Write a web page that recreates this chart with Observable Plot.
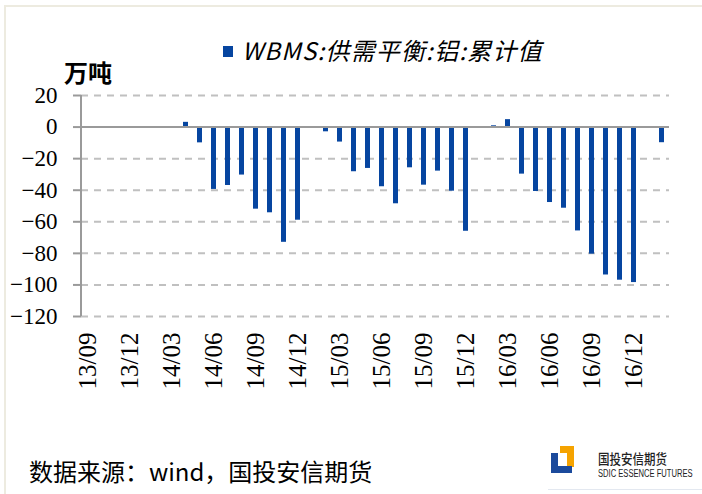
<!DOCTYPE html>
<html>
<head>
<meta charset="utf-8">
<script src="https://cdn.jsdelivr.net/npm/d3@7"></script>
<script src="https://cdn.jsdelivr.net/npm/@observablehq/plot@0.6"></script>
<style>
  html, body { margin: 0; padding: 0; background: #fff; }
  #wrap { position: relative; width: 702px; height: 494px; overflow: hidden; background: #fff; }
  #border { position: absolute; left: 4px; top: 5px; width: 720px; height: 510px; border: 2px solid #EDEBE0; box-sizing: border-box; }
  #chart { position: absolute; left: 0; top: 0; }
  #chart svg text { font-family: "Liberation Serif", "Tinos", "Times New Roman", "DejaVu Serif", serif !important; }
  #legend { position: absolute; left: 223px; top: 36px; height: 28px; line-height: 28px; white-space: nowrap;
            font-family: "Noto Sans CJK SC", sans-serif; font-style: italic; font-size: 24px; letter-spacing: 1.2px; color: #000; }
  #legend .sw { display: inline-block; width: 10px; height: 11px; background: #0645a0; vertical-align: middle; margin-right: 9px; position: relative; top: -2px; }
  #unit { position: absolute; left: 64px; top: 59px; line-height: 26px; font-family: "Noto Sans CJK SC", sans-serif; font-weight: bold; font-size: 24px; color: #000; }
  #caption { position: absolute; left: 29px; top: 457px; line-height: 28px; font-family: "Noto Sans CJK SC", sans-serif; font-size: 24px; color: #000; white-space: nowrap; }
  #logo { position: absolute; left: 548px; top: 444px; width: 160px; height: 50px; }
  #logo .cn { position: absolute; left: 50px; top: 6px; font-family: "Noto Sans CJK SC", sans-serif; font-weight: 500; font-size: 14px; line-height: 17px; color: #222; white-space: nowrap; transform: scaleX(0.82); transform-origin: left top; }
  #logo .en { position: absolute; left: 50px; top: 24px; font-family: "Liberation Sans", sans-serif; font-size: 10px; line-height: 11px; color: #222; white-space: nowrap; transform: scaleX(0.76); transform-origin: left top; }
  #logo .line { position: absolute; left: 0; top: 45px; width: 160px; height: 1px; background: #e3e8f0; }
</style>
</head>
<body>
<div id="wrap">
  <div id="border"></div>
  <div id="chart"></div>
  <div id="legend"><span class="sw"></span>WBMS:供需平衡:铝:累计值</div>
  <div id="unit">万吨</div>
  <div id="caption">数据来源：wind，国投安信期货</div>
  <div id="logo">
    <svg width="30" height="32" style="position:absolute;left:0;top:0">
      <polygon points="12,2 26,2 26,23 19,23 19,9 12,9" fill="#F5A300"/>
      <polygon points="3,9 10,9 10,22 24,22 24,29 3,29" fill="#1B4A9C"/>
    </svg>
    <div class="cn">国投安信期货</div>
    <div class="en">SDIC ESSENCE FUTURES</div>
    <div class="line"></div>
  </div>
</div>
<script>
// Months on the category axis (13/09 .. 17/02)
const months = [
  "13/09","13/10","13/11","13/12","14/01","14/02","14/03","14/04","14/05","14/06","14/07","14/08",
  "14/09","14/10","14/11","14/12","15/01","15/02","15/03","15/04","15/05","15/06","15/07","15/08",
  "15/09","15/10","15/11","15/12","16/01","16/02","16/03","16/04","16/05","16/06","16/07","16/08",
  "16/09","16/10","16/11","16/12","17/01","17/02"
];
// WBMS: supply-demand balance: aluminium: cumulative (万吨); null = no data
const values = [
  null, null, null, null, null, null, null, 3.0, -10, -39.5, -37, -30.4,
  -52, -54.3, -73, -59, null, -3, -9.5, -28.3, -26.2, -37.8, -48.6, -25.8,
  -36.8, -27.9, -40.6, -66, null, 0.8, 4.7, -29.8, -40.8, -47.8, -51.4, -65.8,
  -80.5, -93.7, -97, -98.5, null, -9.9
];
const xTickLabels = ["13/09","13/12","14/03","14/06","14/09","14/12","15/03","15/06","15/09","15/12","16/03","16/06","16/09","16/12"];
const yTicks = [20, 0, -20, -40, -60, -80, -100, -120];
const gridTicks = [20, -20, -40, -60, -80, -100, -120];

const data = months.map((m, i) => ({m, v: values[i]})).filter(d => d.v !== null);

const serif = "'Liberation Serif', 'Times New Roman', 'DejaVu Serif', serif";
const H = 400;
const chart = Plot.plot({
  width: 702,
  height: H,
  marginLeft: 81,
  marginRight: 33,
  marginTop: 95,
  marginBottom: H - 316,
  style: {fontFamily: serif, fontSize: "23px", color: "#000", background: "transparent"},
  x: {type: "band", domain: months, paddingInner: 0.62, paddingOuter: 0.31, axis: null},
  y: {domain: [-120, 20], axis: null},
  marks: [
    Plot.gridY(gridTicks, {stroke: "#c0c0c0", strokeOpacity: 1, strokeWidth: 2, strokeDasharray: "7,6"}),
    Plot.barY(data, {x: "m", y: "v", fill: "#0645a0"}),
    Plot.ruleY([0], {stroke: "#9a9a9a", strokeWidth: 2}),
    Plot.ruleX([months[0]], {y1: 20, y2: -120, dx: -7, stroke: "#9a9a9a", strokeWidth: 2}),
    Plot.axisY(yTicks, {tickSize: 8, tickPadding: 16, stroke: "#9a9a9a", strokeWidth: 2, fill: "#000", label: null, fontSize: 23, fontFamily: serif, fontVariant: "normal"}),
    Plot.axisX(xTickLabels, {tickSize: 0, tickPadding: 16, tickRotate: -90, fill: "#000", label: null, fontSize: 25, fontFamily: serif, fontVariant: "normal"})
  ]
});
document.getElementById("chart").appendChild(chart);
</script>
</body>
</html>
